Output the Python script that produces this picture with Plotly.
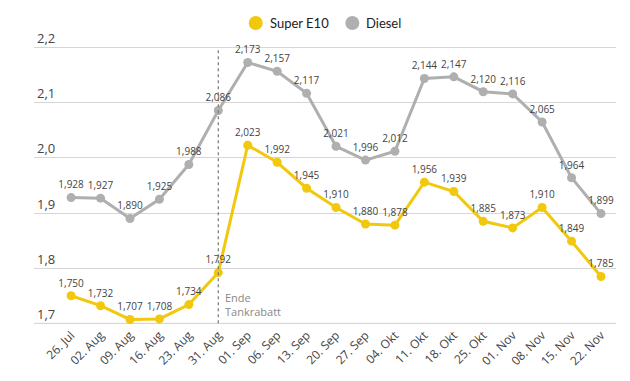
import plotly.graph_objects as go

dates = ["26. Jul", "02. Aug", "09. Aug", "16. Aug", "23. Aug", "31. Aug", "01. Sep",
         "06. Sep", "13. Sep", "20. Sep", "27. Sep", "04. Okt", "11. Okt", "18. Okt",
         "25. Okt", "01. Nov", "08. Nov", "15. Nov", "22. Nov"]
super_e10 = [1.750, 1.732, 1.707, 1.708, 1.734, 1.792, 2.023, 1.992, 1.945, 1.910,
             1.880, 1.878, 1.956, 1.939, 1.885, 1.873, 1.910, 1.849, 1.785]
diesel = [1.928, 1.927, 1.890, 1.925, 1.988, 2.086, 2.173, 2.157, 2.117, 2.021,
          1.996, 2.012, 2.144, 2.147, 2.120, 2.116, 2.065, 1.964, 1.899]
y_ticks = [1.7, 1.8, 1.9, 2.0, 2.1, 2.2]
series_names = ["Super E10", "Diesel"]

YELLOW = "#f2c80f"
GREY = "#afafaf"
GRID = "#d6d6d6"
FONT = "Open Sans"

def fmt(v):
    return f"{v:.3f}".replace(".", ",")

fig = go.Figure()
for name, vals, col in [(series_names[1], diesel, GREY), (series_names[0], super_e10, YELLOW)]:
    fig.add_trace(go.Scatter(
        x=dates, y=vals, mode="lines+markers+text", name=name, showlegend=False,
        line=dict(color=col, width=3), marker=dict(color=col, size=9),
        text=[fmt(v) for v in vals], textposition="top center",
        textfont=dict(size=10, color="#444", family=FONT), cliponaxis=False,
    ))

# manual legend (circle + label), centred at the top
leg_y = 0.99
for name, col, xc in [(series_names[0], YELLOW, 0.381), (series_names[1], GREY, 0.547)]:
    fig.add_shape(type="circle", xref="paper", yref="paper", xsizemode="pixel",
                  ysizemode="pixel", xanchor=xc, yanchor=leg_y, x0=-7, x1=7, y0=-7, y1=7,
                  fillcolor=col, line=dict(width=0))
    fig.add_annotation(x=xc, y=leg_y, xref="paper", yref="paper", text=name,
                       showarrow=False, xanchor="left", yanchor="middle", xshift=12,
                       font=dict(size=13, color="#222", family="Lato"))

fig.add_shape(type="line", xref="paper", yref="y", x0=0, x1=1, y0=y_ticks[0], y1=y_ticks[0],
              line=dict(color=GRID, width=1), layer="below")
fig.add_shape(type="line", xref="x", yref="y", x0=5, x1=5, y0=y_ticks[0], y1=y_ticks[-1],
              line=dict(color="#777", width=1.2, dash="dot"))
fig.add_annotation(x=5, y=y_ticks[0], xref="x", yref="y", text="Ende<br>Tankrabatt",
                   showarrow=False, xanchor="left", yanchor="bottom", align="left",
                   xshift=5, yshift=2, font=dict(size=11, color="#888", family=FONT))

fig.update_layout(
    width=630, height=381, paper_bgcolor="white", plot_bgcolor="white",
    margin=dict(l=26, r=22, t=12, b=64, autoexpand=False),
    separators=",.",
    showlegend=False,
    font=dict(family=FONT, color="#333"),
    xaxis=dict(type="category", range=[-1.26, 18.51], tickangle=-45, showgrid=False,
               showline=False, ticks="", automargin=False,
               tickfont=dict(size=12, color="#444")),
    yaxis=dict(range=[1.697, 2.25], tickvals=y_ticks, tickformat=".1f", automargin=False,
               ticklabelposition="inside top", gridcolor=GRID, gridwidth=1,
               zeroline=False, showline=False, tickfont=dict(size=13, color="#444")),
)
fig.write_html("out.html")
